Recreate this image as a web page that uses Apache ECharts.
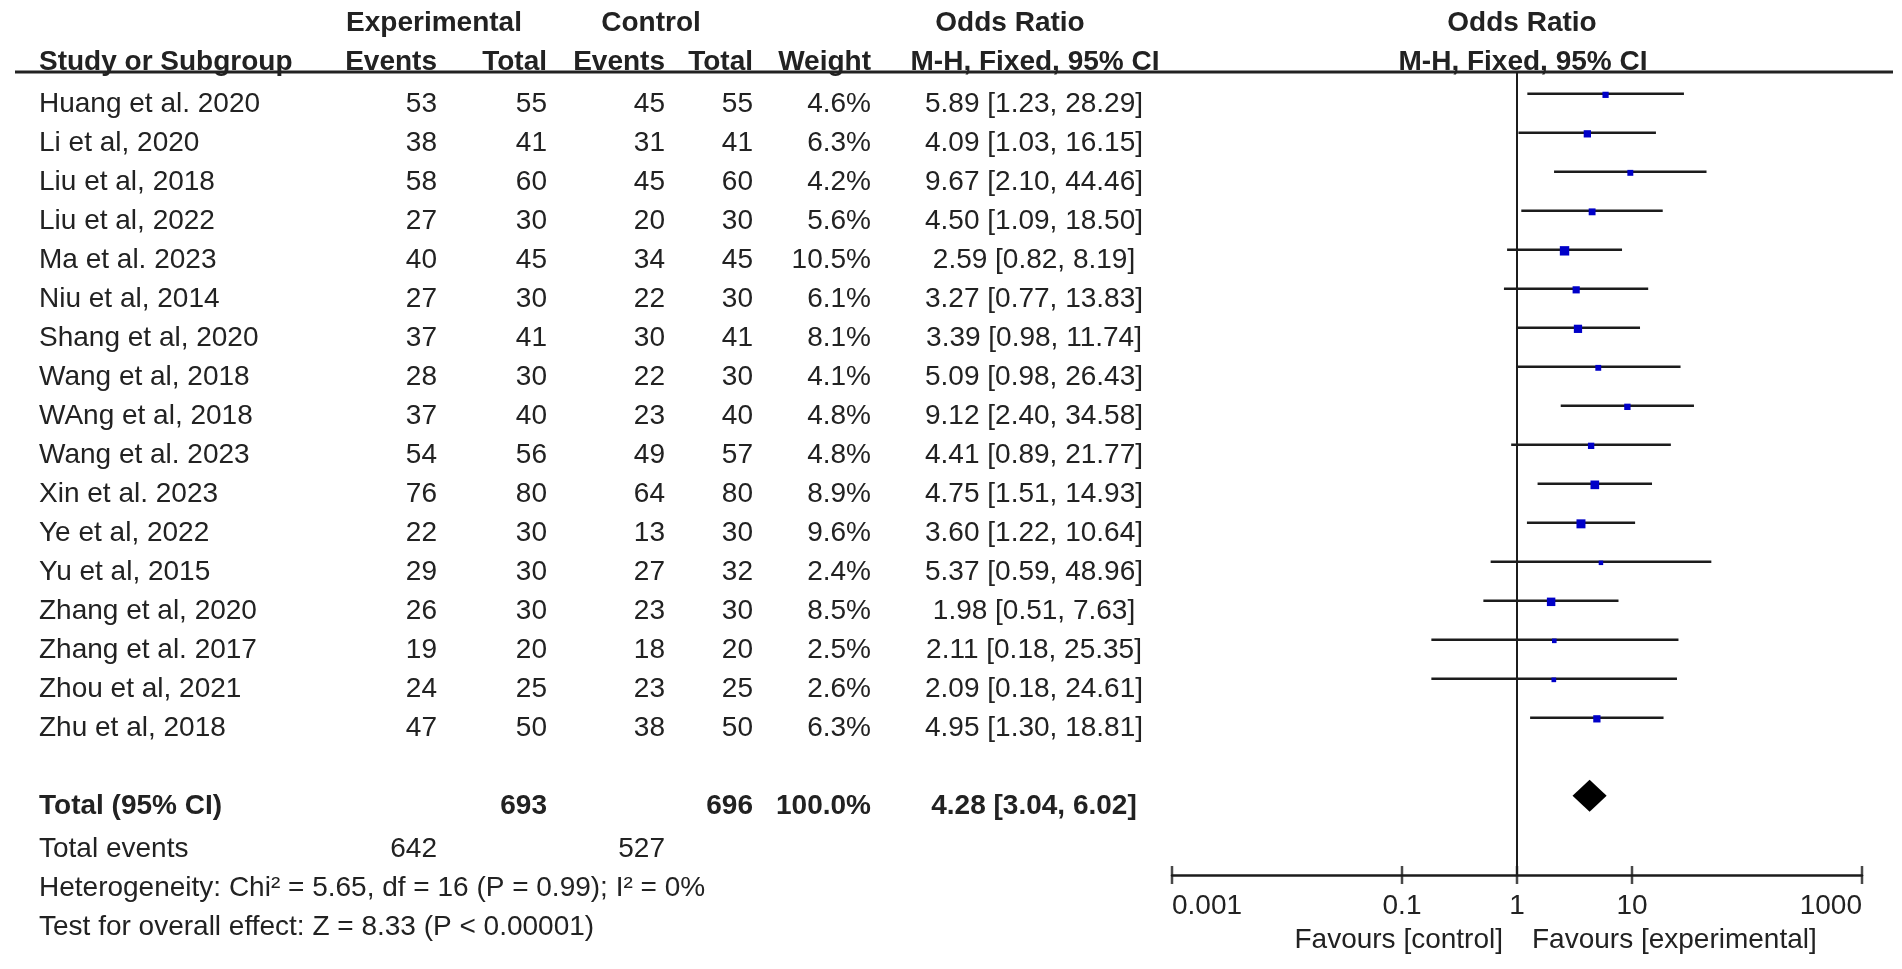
<!DOCTYPE html>
<html>
<head>
<meta charset="utf-8">
<title>Forest plot</title>
<script src="https://cdn.jsdelivr.net/npm/echarts@6.0.0/dist/echarts.min.js"></script>
<style>
    html, body { margin: 0; padding: 0; background: #fff; }
    #chart { width: 1902px; height: 969px; }
</style>
</head>
<body>
<div id="chart"></div>
<script>
// study rows
const studies = ['Huang et al. 2020', 'Li et al, 2020', 'Liu et al, 2018', 'Liu et al, 2022', 'Ma et al. 2023',
    'Niu et al, 2014', 'Shang et al, 2020', 'Wang et al, 2018', 'WAng et al, 2018', 'Wang et al. 2023',
    'Xin et al. 2023', 'Ye et al, 2022', 'Yu et al, 2015', 'Zhang et al, 2020', 'Zhang et al. 2017',
    'Zhou et al, 2021', 'Zhu et al, 2018'];
const expEvents = [53, 38, 58, 27, 40, 27, 37, 28, 37, 54, 76, 22, 29, 26, 19, 24, 47];
const expTotal = [55, 41, 60, 30, 45, 30, 41, 30, 40, 56, 80, 30, 30, 30, 20, 25, 50];
const ctrlEvents = [45, 31, 45, 20, 34, 22, 30, 22, 23, 49, 64, 13, 27, 23, 18, 23, 38];
const ctrlTotal = [55, 41, 60, 30, 45, 30, 41, 30, 40, 57, 80, 30, 32, 30, 20, 25, 50];
const weights = [4.6, 6.3, 4.2, 5.6, 10.5, 6.1, 8.1, 4.1, 4.8, 4.8, 8.9, 9.6, 2.4, 8.5, 2.5, 2.6, 6.3];
const oddsRatio = [5.89, 4.09, 9.67, 4.50, 2.59, 3.27, 3.39, 5.09, 9.12, 4.41, 4.75, 3.60, 5.37, 1.98, 2.11, 2.09, 4.95];
const ciLow = [1.23, 1.03, 2.10, 1.09, 0.82, 0.77, 0.98, 0.98, 2.40, 0.89, 1.51, 1.22, 0.59, 0.51, 0.18, 0.18, 1.30];
const ciHigh = [28.29, 16.15, 44.46, 18.50, 8.19, 13.83, 11.74, 26.43, 34.58, 21.77, 14.93, 10.64, 48.96, 7.63, 25.35, 24.61, 18.81];

// pooled result
const totalRow = 18;
const totalCounts = [693, 696];
const totalEvents = [642, 527];
const totalWeight = '100.0%';
const totalOR = [4.28, 3.04, 6.02];
const heterogeneity = 'Heterogeneity: Chi² = 5.65, df = 16 (P = 0.99); I² = 0%';
const overallTest = 'Test for overall effect: Z = 8.33 (P < 0.00001)';

// axis
const tickValues = [0.001, 0.1, 1, 10, 1000];
const tickLabels = ['0.001', '0.1', '1', '10', '1000'];

const FONT = '"Liberation Sans", Arial, Helvetica, sans-serif';
const INK = '#1c1c1c';
const Y_MIN = -0.56;
const Y_MAX = 20.03;

const chart = echarts.init(document.getElementById('chart'), null, {renderer: 'canvas'});

const fmt = (v) => v.toFixed(2);

chart.setOption({
    animation: false,
    backgroundColor: '#fff',
    grid: {left: 1172, right: 40, top: 72, bottom: 94, outerBoundsMode: 'none'},
    xAxis: {
        type: 'log',
        logBase: 10,
        min: 0.001,
        max: 1000,
        axisLine: {show: true, onZero: false, lineStyle: {color: INK, width: 2.5}},
        axisTick: {show: false},
        splitLine: {show: false},
        axisLabel: {
            customValues: tickValues,
            color: '#222',
            fontSize: 28,
            fontFamily: FONT,
            margin: 17,
            alignMinLabel: 'left',
            alignMaxLabel: 'right',
            formatter: (v) => {
                const i = tickValues.findIndex(t => Math.abs(t - v) / t < 1e-6);
                return i === -1 ? '' : tickLabels[i];
            }
        }
    },
    yAxis: {type: 'value', show: false, inverse: true, min: Y_MIN, max: Y_MAX},
    series: [
        {
            name: 'studies',
            type: 'custom',
            encode: {x: [1, 2, 3], y: 0},
            data: studies.map((s, i) => [i, ciLow[i], ciHigh[i], oddsRatio[i], weights[i]]),
            renderItem: (params, api) => {
                const row = api.value(0);
                const a = api.coord([api.value(1), row]);
                const b = api.coord([api.value(2), row]);
                const c = api.coord([api.value(3), row]);
                const s = 2.9 * Math.sqrt(api.value(4));

                return {
                    type: 'group',
                    children: [
                        {type: 'line', shape: {x1: a[0], y1: a[1], x2: b[0], y2: b[1]}, style: {stroke: INK, lineWidth: 2.5}},
                        {type: 'rect', shape: {x: c[0] - s / 2, y: c[1] - s / 2 + 1, width: s, height: s}, style: {fill: '#0000c8'}}
                    ]
                };
            }
        },
        {
            name: 'total',
            type: 'custom',
            encode: {x: [1, 2, 3], y: 0},
            data: [[totalRow, totalOR[1], totalOR[2], totalOR[0]]],
            renderItem: (params, api) => {
                const row = api.value(0);
                const l = api.coord([api.value(1), row]);
                const r = api.coord([api.value(2), row]);
                const m = api.coord([api.value(3), row]);
                const h = 16;

                return {
                    type: 'polygon',
                    shape: {points: [[l[0], l[1]], [m[0], m[1] - h], [r[0], r[1]], [m[0], m[1] + h]]},
                    style: {fill: '#000'}
                };
            }
        },
        {
            name: 'ticks',
            type: 'scatter',
            silent: true,
            clip: false,
            symbol: 'rect',
            symbolSize: [2.5, 18],
            itemStyle: {color: INK},
            data: tickValues.map(v => [v, Y_MAX]),
            markLine: {
                silent: true,
                symbol: 'none',
                label: {show: false},
                lineStyle: {color: INK, width: 2, type: 'solid'},
                data: [{xAxis: 1}]
            }
        }
    ]
});

// table text, placed on the same rows as the plot
const rowY = (i) => chart.convertToPixel({yAxisIndex: 0}, i) + 10;
const xPix = (v) => chart.convertToPixel({xAxisIndex: 0}, v);

const text = (str, x, y, align, bold) => ({
    type: 'text',
    x: x,
    y: y,
    silent: true,
    style: {
        text: String(str),
        font: (bold ? 'bold ' : '') + '28px ' + FONT,
        fill: '#222',
        textAlign: align,
        textVerticalAlign: 'middle'
    }
});

const col = {name: 39, expEv: 437, expTot: 547, ctrlEv: 665, ctrlTot: 753, weight: 871, ci: 1034};
const elements = [];

// header
const ruleY = chart.convertToPixel({yAxisIndex: 0}, Y_MIN);
elements.push({type: 'line', silent: true, shape: {x1: 15, y1: ruleY, x2: 1893, y2: ruleY}, style: {stroke: '#222', lineWidth: 3}});
elements.push(text('Experimental', 434, 23, 'center', true));
elements.push(text('Control', 651, 23, 'center', true));
elements.push(text('Odds Ratio', 1010, 23, 'center', true));
elements.push(text('Odds Ratio', 1522, 23, 'center', true));
elements.push(text('Study or Subgroup', col.name, 62, 'left', true));
elements.push(text('Events', col.expEv, 62, 'right', true));
elements.push(text('Total', col.expTot, 62, 'right', true));
elements.push(text('Events', col.ctrlEv, 62, 'right', true));
elements.push(text('Total', col.ctrlTot, 62, 'right', true));
elements.push(text('Weight', col.weight, 62, 'right', true));
elements.push(text('M-H, Fixed, 95% CI', 1035, 62, 'center', true));
elements.push(text('M-H, Fixed, 95% CI', 1523, 62, 'center', true));

studies.forEach((s, i) => {
    const y = rowY(i);

    elements.push(text(s, col.name, y, 'left'));
    elements.push(text(expEvents[i], col.expEv, y, 'right'));
    elements.push(text(expTotal[i], col.expTot, y, 'right'));
    elements.push(text(ctrlEvents[i], col.ctrlEv, y, 'right'));
    elements.push(text(ctrlTotal[i], col.ctrlTot, y, 'right'));
    elements.push(text(weights[i].toFixed(1) + '%', col.weight, y, 'right'));
    elements.push(text(`${fmt(oddsRatio[i])} [${fmt(ciLow[i])}, ${fmt(ciHigh[i])}]`, col.ci, y, 'center'));
});

const ty = rowY(totalRow);
elements.push(text('Total (95% CI)', col.name, ty, 'left', true));
elements.push(text(totalCounts[0], col.expTot, ty, 'right', true));
elements.push(text(totalCounts[1], col.ctrlTot, ty, 'right', true));
elements.push(text(totalWeight, col.weight, ty, 'right', true));
elements.push(text(`${fmt(totalOR[0])} [${fmt(totalOR[1])}, ${fmt(totalOR[2])}]`, col.ci, ty, 'center', true));

elements.push(text('Total events', col.name, ty + 43, 'left'));
elements.push(text(totalEvents[0], col.expEv, ty + 43, 'right'));
elements.push(text(totalEvents[1], col.ctrlEv, ty + 43, 'right'));
elements.push(text(heterogeneity, col.name, ty + 82, 'left'));
elements.push(text(overallTest, col.name, ty + 121, 'left'));

// favours labels under the axis
const one = xPix(1);
elements.push(text('Favours [control]', one - 14, 940, 'right'));
elements.push(text('Favours [experimental]', one + 15, 940, 'left'));

chart.setOption({graphic: {elements: elements}});
</script>
</body>
</html>
